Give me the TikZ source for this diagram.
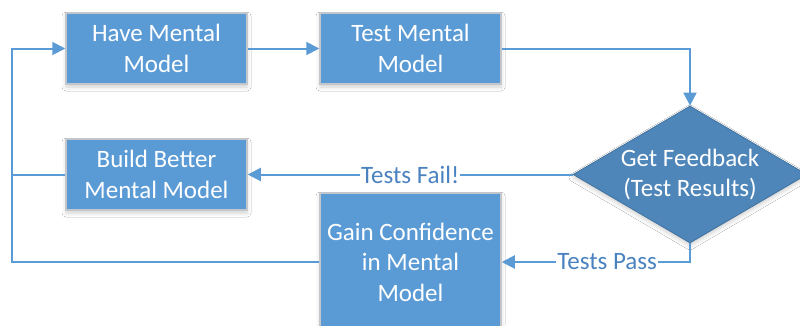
\documentclass[tikz,border=0pt]{standalone}
\usepackage{fontspec}
\setmainfont{Carlito}
\usetikzlibrary{arrows.meta,shapes.geometric,shadows.blur}
\definecolor{boxblue}{HTML}{5B9BD5}
\definecolor{deepblue}{HTML}{4E86BA}
\definecolor{edgegray}{HTML}{C3C7CB}
\definecolor{labelblue}{HTML}{4A82C0}
\tikzset{
  stepbox/.style={rectangle, fill=boxblue, draw=edgegray, line width=1.5pt,
    minimum width=181pt, minimum height=71pt, inner sep=0pt,
    text=white, align=center, font=\fontsize{25}{30.5}\selectfont,
    blur shadow={shadow xshift=0pt, shadow yshift=-3pt, shadow blur radius=4pt, shadow opacity=18}},
  decision/.style={diamond, fill=deepblue, draw=deepblue!85!black, line width=0.8pt,
    minimum width=234pt, minimum height=137pt, inner sep=0pt, aspect=1.7,
    text=white, align=center, font=\fontsize{25}{30.5}\selectfont,
    blur shadow={shadow xshift=0pt, shadow yshift=-3pt, shadow blur radius=4pt, shadow opacity=18}},
  flow/.style={draw=boxblue, line width=2pt},
  tip/.style={-{Triangle[length=13pt,width=13pt]}},
  tag/.style={fill=white, inner sep=1pt, text=labelblue, font=\fontsize{25}{28}\selectfont}
}
\begin{document}
\begin{tikzpicture}[x=1pt,y=-1pt]
  \clip (0,0) rectangle (800,325);
  \fill[white] (0,0) rectangle (800,325);

  % process steps
  \node[stepbox] (have)  at (156.5,48.5)  {Have Mental\\Model};
  \node[stepbox] (test)  at (410.5,48.5)  {Test Mental\\Model};
  \node[stepbox] (build) at (156.5,174.5) {Build Better\\Mental Model};
  \node[stepbox, minimum height=138pt] (gain) at (410.5,262) {Gain Confidence\\in Mental\\Model};
  \node[decision] (fb) at (690,174.5) {Get Feedback\\(Test Results)};

  % corner of the return loop
  \coordinate (loop) at (12,262);

  % connectors
  \draw[flow,tip] (have.east) -- (test.east -| test.west);
  \draw[flow,tip] (test.east) -| (fb.north);
  \draw[flow,tip] (fb.west) -- node[tag] {Tests Fail!} (build.east);
  \draw[flow,tip] (fb.south) |- node[tag, pos=0.72] {Tests Pass} (gain.east);
  \draw[flow,tip] (gain.west) -- (loop) |- (have.west);
  \draw[flow] (build.west) -- (build.west -| loop);
\end{tikzpicture}
\end{document}
